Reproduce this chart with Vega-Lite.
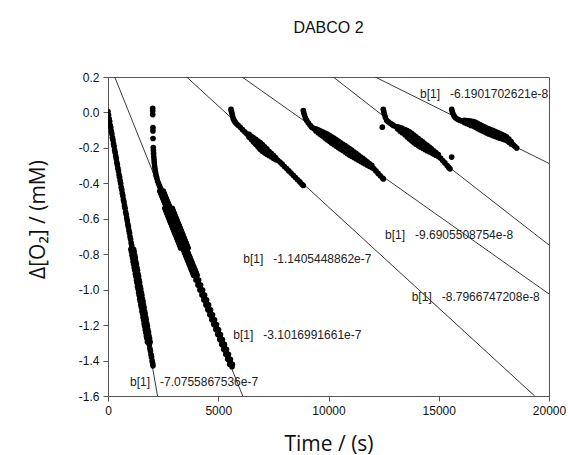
{
"$schema": "https://vega.github.io/schema/vega-lite/v6.json",
"width": 441, "height": 319,
"autosize": "none",
"padding": {"left": 108, "top": 77, "right": 19, "bottom": 59},
"background": "white",
"config": {"view": {"stroke": "#555", "strokeWidth": 1}, "font": "Liberation Sans"},
"title": {"text": "DABCO 2", "font": "Liberation Sans", "fontSize": 16, "fontWeight": "normal", "color": "#111", "anchor": "middle", "frame": "group", "offset": 35},
"datasets": {
"fits": [
{"id":"L1","t":0,"y":-0.01},{"id":"L1","t":2247,"y":-1.6},
{"id":"L2","t":306,"y":0.2},{"id":"L2","t":6110,"y":-1.6},
{"id":"L3","t":3568,"y":0.2},{"id":"L3","t":19351,"y":-1.6},
{"id":"L4","t":6082,"y":0.2},{"id":"L4","t":20000,"y":-1.0243},
{"id":"L5","t":10216,"y":0.2},{"id":"L5","t":20000,"y":-0.7481},
{"id":"L6","t":12116,"y":0.2},{"id":"L6","t":20000,"y":-0.288}
],
"notes": [
{"t":998,"y":-1.522,"label":"b[1]\u00a0\u00a0\u00a0-7.0755867536e-7"},
{"t":5683,"y":-1.258,"label":"b[1]\u00a0\u00a0\u00a0-3.1016991661e-7"},
{"t":6136,"y":-0.826,"label":"b[1]\u00a0\u00a0\u00a0-1.1405448862e-7"},
{"t":13773,"y":-1.042,"label":"b[1]\u00a0\u00a0\u00a0-8.7966747208e-8"},
{"t":12562,"y":-0.694,"label":"b[1]\u00a0\u00a0\u00a0-9.6905508754e-8"},
{"t":14150,"y":0.106,"label":"b[1]\u00a0\u00a0\u00a0-6.1901702621e-8"}
],
"pts": [
{"t":0,"y":0.005},{"t":25,"y":-0.015},{"t":50,"y":-0.036},{"t":75,"y":-0.051},{"t":100,"y":-0.072},{"t":125,"y":-0.086},{"t":150,"y":-0.106},{"t":175,"y":-0.121},{"t":200,"y":-0.142},{"t":225,"y":-0.156},{"t":250,"y":-0.176},{"t":275,"y":-0.191},{"t":300,"y":-0.212},{"t":325,"y":-0.226},{"t":350,"y":-0.246},{"t":375,"y":-0.261},{"t":400,"y":-0.282},{"t":425,"y":-0.296},{"t":450,"y":-0.316},{"t":475,"y":-0.331},{"t":500,"y":-0.352},{"t":525,"y":-0.366},{"t":550,"y":-0.386},{"t":575,"y":-0.401},{"t":600,"y":-0.422},{"t":625,"y":-0.436},{"t":650,"y":-0.456},{"t":675,"y":-0.471},{"t":700,"y":-0.492},{"t":725,"y":-0.506},{"t":750,"y":-0.526},{"t":775,"y":-0.541},{"t":800,"y":-0.562},{"t":825,"y":-0.576},{"t":850,"y":-0.596},{"t":875,"y":-0.611},{"t":900,"y":-0.632},{"t":925,"y":-0.646},{"t":950,"y":-0.666},{"t":975,"y":-0.681},{"t":1000,"y":-0.702},{"t":1025,"y":-0.716},{"t":1050,"y":-0.736},{"t":1075,"y":-0.751},
{"t":1100,"y":-0.772},{"t":1125,"y":-0.786},{"t":1150,"y":-0.806},{"t":1175,"y":-0.821},{"t":1200,"y":-0.842},{"t":1225,"y":-0.856},{"t":1250,"y":-0.876},{"t":1275,"y":-0.891},{"t":1300,"y":-0.912},{"t":1325,"y":-0.926},{"t":1350,"y":-0.946},{"t":1375,"y":-0.961},{"t":1400,"y":-0.982},{"t":1425,"y":-0.996},{"t":1450,"y":-1.016},{"t":1475,"y":-1.031},{"t":1500,"y":-1.052},{"t":1525,"y":-1.066},{"t":1550,"y":-1.086},{"t":1575,"y":-1.101},{"t":1600,"y":-1.122},{"t":1625,"y":-1.136},{"t":1650,"y":-1.156},{"t":1675,"y":-1.171},{"t":1700,"y":-1.192},{"t":1725,"y":-1.206},{"t":1750,"y":-1.226},{"t":1775,"y":-1.241},{"t":1800,"y":-1.262},{"t":1825,"y":-1.276},{"t":1850,"y":-1.296},{"t":1875,"y":-1.311},{"t":1900,"y":-1.332},{"t":1925,"y":-1.346},{"t":1950,"y":-1.366},{"t":1975,"y":-1.381},{"t":2000,"y":-1.402},{"t":2025,"y":-1.416},{"t":2040,"y":-1.43},
{"t":1040,"y":-0.772},{"t":1160,"y":-0.772},{"t":1065,"y":-0.786},{"t":1185,"y":-0.786},{"t":1090,"y":-0.806},{"t":1210,"y":-0.806},{"t":1115,"y":-0.821},{"t":1235,"y":-0.821},{"t":1140,"y":-0.842},{"t":1260,"y":-0.842},{"t":1165,"y":-0.856},{"t":1285,"y":-0.856},{"t":1190,"y":-0.876},{"t":1310,"y":-0.876},{"t":1215,"y":-0.891},{"t":1335,"y":-0.891},{"t":1240,"y":-0.912},{"t":1360,"y":-0.912},{"t":1265,"y":-0.926},{"t":1385,"y":-0.926},{"t":1290,"y":-0.946},{"t":1410,"y":-0.946},{"t":1315,"y":-0.961},{"t":1435,"y":-0.961},{"t":1340,"y":-0.982},{"t":1460,"y":-0.982},{"t":1365,"y":-0.996},{"t":1485,"y":-0.996},{"t":1390,"y":-1.016},{"t":1510,"y":-1.016},{"t":1415,"y":-1.031},{"t":1535,"y":-1.031},{"t":1440,"y":-1.052},{"t":1560,"y":-1.052},{"t":1465,"y":-1.066},{"t":1585,"y":-1.066},{"t":1490,"y":-1.086},{"t":1610,"y":-1.086},{"t":1515,"y":-1.101},{"t":1635,"y":-1.101},{"t":1540,"y":-1.122},{"t":1660,"y":-1.122},{"t":1565,"y":-1.136},{"t":1685,"y":-1.136},{"t":1590,"y":-1.156},{"t":1710,"y":-1.156},{"t":1615,"y":-1.171},{"t":1735,"y":-1.171},{"t":1640,"y":-1.192},{"t":1760,"y":-1.192},{"t":1665,"y":-1.206},{"t":1785,"y":-1.206},{"t":1690,"y":-1.226},{"t":1810,"y":-1.226},{"t":1715,"y":-1.241},{"t":1835,"y":-1.241},{"t":1740,"y":-1.262},{"t":1860,"y":-1.262},{"t":1765,"y":-1.276},{"t":1885,"y":-1.276},{"t":1790,"y":-1.296},{"t":1910,"y":-1.296},
{"t":2027,"y":0.023},{"t":2027,"y":0.008},{"t":2028,"y":-0.012},{"t":2038,"y":-0.085},{"t":2038,"y":-0.104},{"t":2042,"y":-0.147},{"t":2054,"y":-0.198},{"t":2060,"y":-0.215},{"t":2068,"y":-0.232},{"t":2077,"y":-0.25},{"t":2088,"y":-0.268},{"t":2100,"y":-0.285},{"t":2115,"y":-0.302},{"t":2130,"y":-0.318},{"t":2148,"y":-0.333},{"t":2168,"y":-0.347},{"t":2190,"y":-0.36},{"t":2215,"y":-0.372},
{"t":2250,"y":-0.388},{"t":2295,"y":-0.402},{"t":2340,"y":-0.416},{"t":2385,"y":-0.43},{"t":2430,"y":-0.444},{"t":2475,"y":-0.458},{"t":2520,"y":-0.472},{"t":2565,"y":-0.486},{"t":2610,"y":-0.5},{"t":2655,"y":-0.513},{"t":2700,"y":-0.527},{"t":2745,"y":-0.541},{"t":2790,"y":-0.555},{"t":2835,"y":-0.569},{"t":2880,"y":-0.583},{"t":2925,"y":-0.597},{"t":2970,"y":-0.611},{"t":3015,"y":-0.625},{"t":3060,"y":-0.639},{"t":3105,"y":-0.653},{"t":3150,"y":-0.667},{"t":3195,"y":-0.681},{"t":3240,"y":-0.695},{"t":3285,"y":-0.709},{"t":3330,"y":-0.723},{"t":3375,"y":-0.737},{"t":3420,"y":-0.751},{"t":3465,"y":-0.765},{"t":3510,"y":-0.779},{"t":3555,"y":-0.793},{"t":3600,"y":-0.807},{"t":3645,"y":-0.821},{"t":3690,"y":-0.835},{"t":3735,"y":-0.848},{"t":3780,"y":-0.862},{"t":3825,"y":-0.876},{"t":3870,"y":-0.89},{"t":3915,"y":-0.904},{"t":3960,"y":-0.918},{"t":4005,"y":-0.932},{"t":4050,"y":-0.946},{"t":4095,"y":-0.96},{"t":4140,"y":-0.974},{"t":4185,"y":-0.988},{"t":4230,"y":-1.002},{"t":4275,"y":-1.016},{"t":4320,"y":-1.03},{"t":4365,"y":-1.044},{"t":4410,"y":-1.058},{"t":4455,"y":-1.072},{"t":4500,"y":-1.086},{"t":4545,"y":-1.1},{"t":4590,"y":-1.114},{"t":4635,"y":-1.128},{"t":4680,"y":-1.142},{"t":4725,"y":-1.156},{"t":4770,"y":-1.17},{"t":4815,"y":-1.183},{"t":4860,"y":-1.197},{"t":4905,"y":-1.211},{"t":4950,"y":-1.225},{"t":4995,"y":-1.239},{"t":5040,"y":-1.253},{"t":5085,"y":-1.267},{"t":5130,"y":-1.281},{"t":5175,"y":-1.295},{"t":5220,"y":-1.309},{"t":5265,"y":-1.323},{"t":5310,"y":-1.337},{"t":5355,"y":-1.351},{"t":5400,"y":-1.365},{"t":5445,"y":-1.379},{"t":5490,"y":-1.393},{"t":5535,"y":-1.407},{"t":5580,"y":-1.421},{"t":5625,"y":-1.435},
{"t":2350,"y":-0.444},{"t":2510,"y":-0.444},{"t":2395,"y":-0.458},{"t":2555,"y":-0.458},{"t":2440,"y":-0.472},{"t":2600,"y":-0.472},{"t":2485,"y":-0.486},{"t":2645,"y":-0.486},{"t":2530,"y":-0.5},{"t":2690,"y":-0.5},{"t":2575,"y":-0.513},{"t":2735,"y":-0.513},{"t":2620,"y":-0.527},{"t":2780,"y":-0.527},{"t":2665,"y":-0.541},{"t":2825,"y":-0.541},{"t":2710,"y":-0.555},{"t":2870,"y":-0.555},{"t":2755,"y":-0.569},{"t":2915,"y":-0.569},{"t":2800,"y":-0.583},{"t":2960,"y":-0.583},{"t":2845,"y":-0.597},{"t":3005,"y":-0.597},{"t":2890,"y":-0.611},{"t":3050,"y":-0.611},{"t":2935,"y":-0.625},{"t":3095,"y":-0.625},{"t":2980,"y":-0.639},{"t":3140,"y":-0.639},{"t":3025,"y":-0.653},{"t":3185,"y":-0.653},{"t":3070,"y":-0.667},{"t":3230,"y":-0.667},{"t":3115,"y":-0.681},{"t":3275,"y":-0.681},{"t":3160,"y":-0.695},{"t":3320,"y":-0.695},{"t":3205,"y":-0.709},{"t":3365,"y":-0.709},{"t":3250,"y":-0.723},{"t":3410,"y":-0.723},{"t":3295,"y":-0.737},{"t":3455,"y":-0.737},{"t":3340,"y":-0.751},{"t":3500,"y":-0.751},{"t":3385,"y":-0.765},{"t":3545,"y":-0.765},{"t":3430,"y":-0.779},{"t":3590,"y":-0.779},{"t":3475,"y":-0.793},{"t":3635,"y":-0.793},{"t":3520,"y":-0.807},{"t":3680,"y":-0.807},{"t":3565,"y":-0.821},{"t":3725,"y":-0.821},{"t":3610,"y":-0.835},{"t":3770,"y":-0.835},{"t":3655,"y":-0.848},{"t":3815,"y":-0.848},{"t":3700,"y":-0.862},{"t":3860,"y":-0.862},{"t":3745,"y":-0.876},{"t":3905,"y":-0.876},{"t":3790,"y":-0.89},{"t":3950,"y":-0.89},{"t":3835,"y":-0.904},{"t":3995,"y":-0.904},{"t":3880,"y":-0.918},{"t":4040,"y":-0.918},
{"t":2575,"y":-0.541},{"t":2915,"y":-0.541},{"t":2620,"y":-0.555},{"t":2960,"y":-0.555},{"t":2665,"y":-0.569},{"t":3005,"y":-0.569},{"t":2710,"y":-0.583},{"t":3050,"y":-0.583},{"t":2755,"y":-0.597},{"t":3095,"y":-0.597},{"t":2800,"y":-0.611},{"t":3140,"y":-0.611},{"t":2845,"y":-0.625},{"t":3185,"y":-0.625},{"t":2890,"y":-0.639},{"t":3230,"y":-0.639},{"t":2935,"y":-0.653},{"t":3275,"y":-0.653},{"t":2980,"y":-0.667},{"t":3320,"y":-0.667},{"t":3025,"y":-0.681},{"t":3365,"y":-0.681},{"t":3070,"y":-0.695},{"t":3410,"y":-0.695},{"t":3115,"y":-0.709},{"t":3455,"y":-0.709},{"t":3160,"y":-0.723},{"t":3500,"y":-0.723},{"t":3205,"y":-0.737},{"t":3545,"y":-0.737},{"t":3250,"y":-0.751},{"t":3590,"y":-0.751},{"t":3295,"y":-0.765},{"t":3635,"y":-0.765},
{"t":3990,"y":-0.946},{"t":4110,"y":-0.946},{"t":4080,"y":-0.974},{"t":4200,"y":-0.974},{"t":4170,"y":-1.002},{"t":4290,"y":-1.002},{"t":4260,"y":-1.03},{"t":4380,"y":-1.03},{"t":4350,"y":-1.058},{"t":4470,"y":-1.058},{"t":4440,"y":-1.086},{"t":4560,"y":-1.086},{"t":4530,"y":-1.114},{"t":4650,"y":-1.114},{"t":4620,"y":-1.142},{"t":4740,"y":-1.142},{"t":4710,"y":-1.17},{"t":4830,"y":-1.17},{"t":4800,"y":-1.197},{"t":4920,"y":-1.197},{"t":4890,"y":-1.225},{"t":5010,"y":-1.225},{"t":4980,"y":-1.253},{"t":5100,"y":-1.253},{"t":5070,"y":-1.281},{"t":5190,"y":-1.281},{"t":5160,"y":-1.309},{"t":5280,"y":-1.309},{"t":5250,"y":-1.337},{"t":5370,"y":-1.337},{"t":5340,"y":-1.365},{"t":5460,"y":-1.365},{"t":5430,"y":-1.393},{"t":5550,"y":-1.393},{"t":5520,"y":-1.421},{"t":5640,"y":-1.421},
{"t":5578,"y":0.017},{"t":5600,"y":0.005},{"t":5625,"y":-0.008},{"t":5650,"y":-0.02},{"t":5680,"y":-0.035},{"t":5720,"y":-0.045},{"t":5770,"y":-0.055},{"t":5830,"y":-0.064},{"t":5900,"y":-0.072},{"t":6000,"y":-0.084},{"t":6100,"y":-0.097},{"t":6200,"y":-0.109},{"t":6290,"y":-0.12},{"t":6400,"y":-0.132},{"t":6500,"y":-0.144},{"t":6600,"y":-0.155},{"t":6700,"y":-0.166},{"t":6800,"y":-0.178},{"t":6900,"y":-0.189},{"t":7000,"y":-0.2},{"t":7100,"y":-0.211},{"t":7200,"y":-0.221},{"t":7300,"y":-0.231},{"t":7400,"y":-0.24},{"t":7500,"y":-0.25},{"t":7600,"y":-0.26},{"t":7700,"y":-0.27},{"t":7800,"y":-0.28},{"t":7900,"y":-0.292},{"t":8000,"y":-0.305},{"t":8100,"y":-0.317},{"t":8200,"y":-0.33},{"t":8300,"y":-0.342},{"t":8400,"y":-0.355},{"t":8500,"y":-0.367},{"t":8600,"y":-0.38},{"t":8700,"y":-0.392},{"t":8800,"y":-0.405},{"t":8857,"y":-0.412},
{"t":6400,"y":-0.124},{"t":6400,"y":-0.14},{"t":6500,"y":-0.135},{"t":6500,"y":-0.153},{"t":6600,"y":-0.143},{"t":6600,"y":-0.167},{"t":6700,"y":-0.152},{"t":6700,"y":-0.18},{"t":6800,"y":-0.162},{"t":6800,"y":-0.194},{"t":6900,"y":-0.17},{"t":6900,"y":-0.208},{"t":7000,"y":-0.181},{"t":7000,"y":-0.219},{"t":7100,"y":-0.194},{"t":7100,"y":-0.228},{"t":7200,"y":-0.206},{"t":7200,"y":-0.236},{"t":7300,"y":-0.219},{"t":7300,"y":-0.243},{"t":7400,"y":-0.23},{"t":7400,"y":-0.25},{"t":7500,"y":-0.242},{"t":7500,"y":-0.258},{"t":7600,"y":-0.254},{"t":7600,"y":-0.266},
{"t":8857,"y":0.011},{"t":8880,"y":-0.002},{"t":8910,"y":-0.015},{"t":8950,"y":-0.03},{"t":9011,"y":-0.045},{"t":9080,"y":-0.058},{"t":9160,"y":-0.071},{"t":9238,"y":-0.083},{"t":9330,"y":-0.09},{"t":9430,"y":-0.098},{"t":9530,"y":-0.106},{"t":9630,"y":-0.114},{"t":9730,"y":-0.121},{"t":9841,"y":-0.13},{"t":9940,"y":-0.138},{"t":10040,"y":-0.146},{"t":10140,"y":-0.155},{"t":10240,"y":-0.163},{"t":10340,"y":-0.171},{"t":10440,"y":-0.18},{"t":10540,"y":-0.188},{"t":10640,"y":-0.196},{"t":10748,"y":-0.205},{"t":10850,"y":-0.213},{"t":10950,"y":-0.222},{"t":11050,"y":-0.23},{"t":11150,"y":-0.238},{"t":11250,"y":-0.246},{"t":11350,"y":-0.255},{"t":11450,"y":-0.263},{"t":11550,"y":-0.271},{"t":11650,"y":-0.279},{"t":11750,"y":-0.288},{"t":11850,"y":-0.296},{"t":11959,"y":-0.305},{"t":12050,"y":-0.317},{"t":12150,"y":-0.33},{"t":12250,"y":-0.344},{"t":12350,"y":-0.357},{"t":12450,"y":-0.37},{"t":12485,"y":-0.375},
{"t":9430,"y":-0.092},{"t":9430,"y":-0.104},{"t":9530,"y":-0.098},{"t":9530,"y":-0.114},{"t":9630,"y":-0.104},{"t":9630,"y":-0.124},{"t":9730,"y":-0.109},{"t":9730,"y":-0.133},{"t":9841,"y":-0.116},{"t":9841,"y":-0.144},{"t":9940,"y":-0.122},{"t":9940,"y":-0.154},{"t":10040,"y":-0.129},{"t":10040,"y":-0.163},{"t":10140,"y":-0.137},{"t":10140,"y":-0.173},{"t":10240,"y":-0.145},{"t":10240,"y":-0.181},{"t":10340,"y":-0.153},{"t":10340,"y":-0.189},{"t":10440,"y":-0.162},{"t":10440,"y":-0.198},{"t":10540,"y":-0.17},{"t":10540,"y":-0.206},{"t":10640,"y":-0.178},{"t":10640,"y":-0.214},{"t":10748,"y":-0.187},{"t":10748,"y":-0.223},{"t":10850,"y":-0.195},{"t":10850,"y":-0.231},{"t":10950,"y":-0.204},{"t":10950,"y":-0.24},{"t":11050,"y":-0.213},{"t":11050,"y":-0.247},{"t":11150,"y":-0.222},{"t":11150,"y":-0.254},{"t":11250,"y":-0.231},{"t":11250,"y":-0.261},{"t":11350,"y":-0.241},{"t":11350,"y":-0.269},{"t":11450,"y":-0.25},{"t":11450,"y":-0.276},{"t":11550,"y":-0.259},{"t":11550,"y":-0.283},{"t":11650,"y":-0.269},{"t":11650,"y":-0.289},{"t":11750,"y":-0.279},{"t":11750,"y":-0.297},{"t":11850,"y":-0.288},{"t":11850,"y":-0.304},{"t":11959,"y":-0.299},{"t":11959,"y":-0.311},
{"t":12440,"y":-0.083},{"t":15586,"y":-0.252},
{"t":12485,"y":0.017},{"t":12510,"y":0.003},{"t":12540,"y":-0.012},{"t":12580,"y":-0.028},{"t":12639,"y":-0.045},{"t":12710,"y":-0.053},{"t":12800,"y":-0.061},{"t":12870,"y":-0.067},{"t":12939,"y":-0.073},{"t":13040,"y":-0.08},{"t":13140,"y":-0.087},{"t":13240,"y":-0.095},{"t":13340,"y":-0.102},{"t":13469,"y":-0.111},{"t":13570,"y":-0.121},{"t":13670,"y":-0.13},{"t":13770,"y":-0.139},{"t":13870,"y":-0.149},{"t":13970,"y":-0.158},{"t":14073,"y":-0.168},{"t":14170,"y":-0.176},{"t":14270,"y":-0.184},{"t":14370,"y":-0.193},{"t":14470,"y":-0.201},{"t":14570,"y":-0.209},{"t":14670,"y":-0.217},{"t":14770,"y":-0.226},{"t":14870,"y":-0.234},{"t":14980,"y":-0.243},{"t":15080,"y":-0.257},{"t":15180,"y":-0.271},{"t":15280,"y":-0.285},{"t":15380,"y":-0.3},{"t":15450,"y":-0.31},{"t":15510,"y":-0.318},
{"t":13140,"y":-0.081},{"t":13140,"y":-0.093},{"t":13240,"y":-0.086},{"t":13240,"y":-0.104},{"t":13340,"y":-0.09},{"t":13340,"y":-0.114},{"t":13469,"y":-0.096},{"t":13469,"y":-0.126},{"t":13570,"y":-0.103},{"t":13570,"y":-0.139},{"t":13670,"y":-0.11},{"t":13670,"y":-0.15},{"t":13770,"y":-0.118},{"t":13770,"y":-0.16},{"t":13870,"y":-0.128},{"t":13870,"y":-0.17},{"t":13970,"y":-0.137},{"t":13970,"y":-0.179},{"t":14073,"y":-0.148},{"t":14073,"y":-0.188},{"t":14170,"y":-0.157},{"t":14170,"y":-0.195},{"t":14270,"y":-0.166},{"t":14270,"y":-0.202},{"t":14370,"y":-0.177},{"t":14370,"y":-0.209},{"t":14470,"y":-0.186},{"t":14470,"y":-0.216},{"t":14570,"y":-0.196},{"t":14570,"y":-0.222},{"t":14670,"y":-0.206},{"t":14670,"y":-0.228},{"t":14770,"y":-0.217},{"t":14770,"y":-0.235},{"t":14870,"y":-0.227},{"t":14870,"y":-0.241},{"t":14980,"y":-0.238},{"t":14980,"y":-0.248},
{"t":15587,"y":0.017},{"t":15610,"y":0.005},{"t":15640,"y":-0.006},{"t":15690,"y":-0.018},{"t":15737,"y":-0.027},{"t":15800,"y":-0.034},{"t":15880,"y":-0.04},{"t":15964,"y":-0.045},{"t":16060,"y":-0.048},{"t":16160,"y":-0.051},{"t":16260,"y":-0.054},{"t":16360,"y":-0.057},{"t":16460,"y":-0.061},{"t":16567,"y":-0.064},{"t":16670,"y":-0.07},{"t":16770,"y":-0.077},{"t":16870,"y":-0.083},{"t":16970,"y":-0.089},{"t":17070,"y":-0.095},{"t":17175,"y":-0.102},{"t":17270,"y":-0.107},{"t":17370,"y":-0.112},{"t":17470,"y":-0.117},{"t":17570,"y":-0.122},{"t":17670,"y":-0.127},{"t":17770,"y":-0.132},{"t":17870,"y":-0.137},{"t":17970,"y":-0.142},{"t":18082,"y":-0.148},{"t":18180,"y":-0.159},{"t":18280,"y":-0.171},{"t":18380,"y":-0.183},{"t":18460,"y":-0.192},{"t":18535,"y":-0.201},
{"t":16160,"y":-0.045},{"t":16160,"y":-0.057},{"t":16260,"y":-0.046},{"t":16260,"y":-0.062},{"t":16360,"y":-0.047},{"t":16360,"y":-0.067},{"t":16460,"y":-0.049},{"t":16460,"y":-0.073},{"t":16567,"y":-0.051},{"t":16567,"y":-0.077},{"t":16670,"y":-0.056},{"t":16670,"y":-0.084},{"t":16770,"y":-0.063},{"t":16770,"y":-0.091},{"t":16870,"y":-0.069},{"t":16870,"y":-0.097},{"t":16970,"y":-0.075},{"t":16970,"y":-0.103},{"t":17070,"y":-0.081},{"t":17070,"y":-0.109},{"t":17175,"y":-0.088},{"t":17175,"y":-0.116},{"t":17270,"y":-0.093},{"t":17270,"y":-0.121},{"t":17370,"y":-0.098},{"t":17370,"y":-0.126},{"t":17470,"y":-0.103},{"t":17470,"y":-0.131},{"t":17570,"y":-0.108},{"t":17570,"y":-0.136},{"t":17670,"y":-0.113},{"t":17670,"y":-0.141},{"t":17770,"y":-0.119},{"t":17770,"y":-0.145},{"t":17870,"y":-0.125},{"t":17870,"y":-0.149},{"t":17970,"y":-0.131},{"t":17970,"y":-0.153},{"t":18082,"y":-0.138},{"t":18082,"y":-0.158},{"t":18180,"y":-0.15},{"t":18180,"y":-0.168},{"t":18280,"y":-0.164},{"t":18280,"y":-0.178}
]
},
"encoding": {
"x": {"field": "t", "type": "quantitative", "scale": {"domain": [0, 20000], "nice": false, "zero": false},
 "axis": {"title": "Time / (s)", "values": [0, 5000, 10000, 15000, 20000], "format": "d", "labelFlush": false, "labelOverlap": false, "grid": false, "tickSize": 5, "labelPadding": 4, "labelFont": "Liberation Sans", "labelFontSize": 12, "labelColor": "#111", "domainColor": "#555", "tickColor": "#555", "titleFont": "Open Sans", "titleFontSize": 21, "titleFontWeight": "normal", "titleColor": "#111", "titleBaseline": "middle", "titleY": 48}},
"y": {"field": "y", "type": "quantitative", "scale": {"domain": [-1.6, 0.2], "nice": false, "zero": false},
 "axis": {"title": "Δ[O₂] / (mM)", "values": [-1.6, -1.4, -1.2, -1.0, -0.8, -0.6, -0.4, -0.2, 0.0, 0.2], "labelExpr": "replace(format(datum.value, '.1f'), '−', '-')", "labelFlush": false, "labelOverlap": false, "grid": false, "tickSize": 5, "labelPadding": 4, "labelFont": "Liberation Sans", "labelFontSize": 12, "labelColor": "#111", "domainColor": "#555", "tickColor": "#555", "titleFont": "Open Sans", "titleFontSize": 21, "titleFontWeight": "normal", "titleColor": "#111", "titleAngle": 270, "titleAlign": "center", "titleBaseline": "middle", "titleX": -70, "titleY": 142}}
},
"layer": [
{"data": {"name": "fits"}, "mark": {"type": "line", "color": "#222", "strokeWidth": 0.9, "clip": true}, "encoding": {"detail": {"field": "id"}}},
{"data": {"name": "pts"}, "mark": {"type": "circle", "color": "#000", "size": 32, "opacity": 1, "clip": true}},
{"data": {"name": "notes"}, "mark": {"type": "text", "align": "left", "baseline": "middle", "font": "Liberation Sans", "fontSize": 12, "color": "#222", "clip": true}, "encoding": {"text": {"field": "label"}}}
]
}
